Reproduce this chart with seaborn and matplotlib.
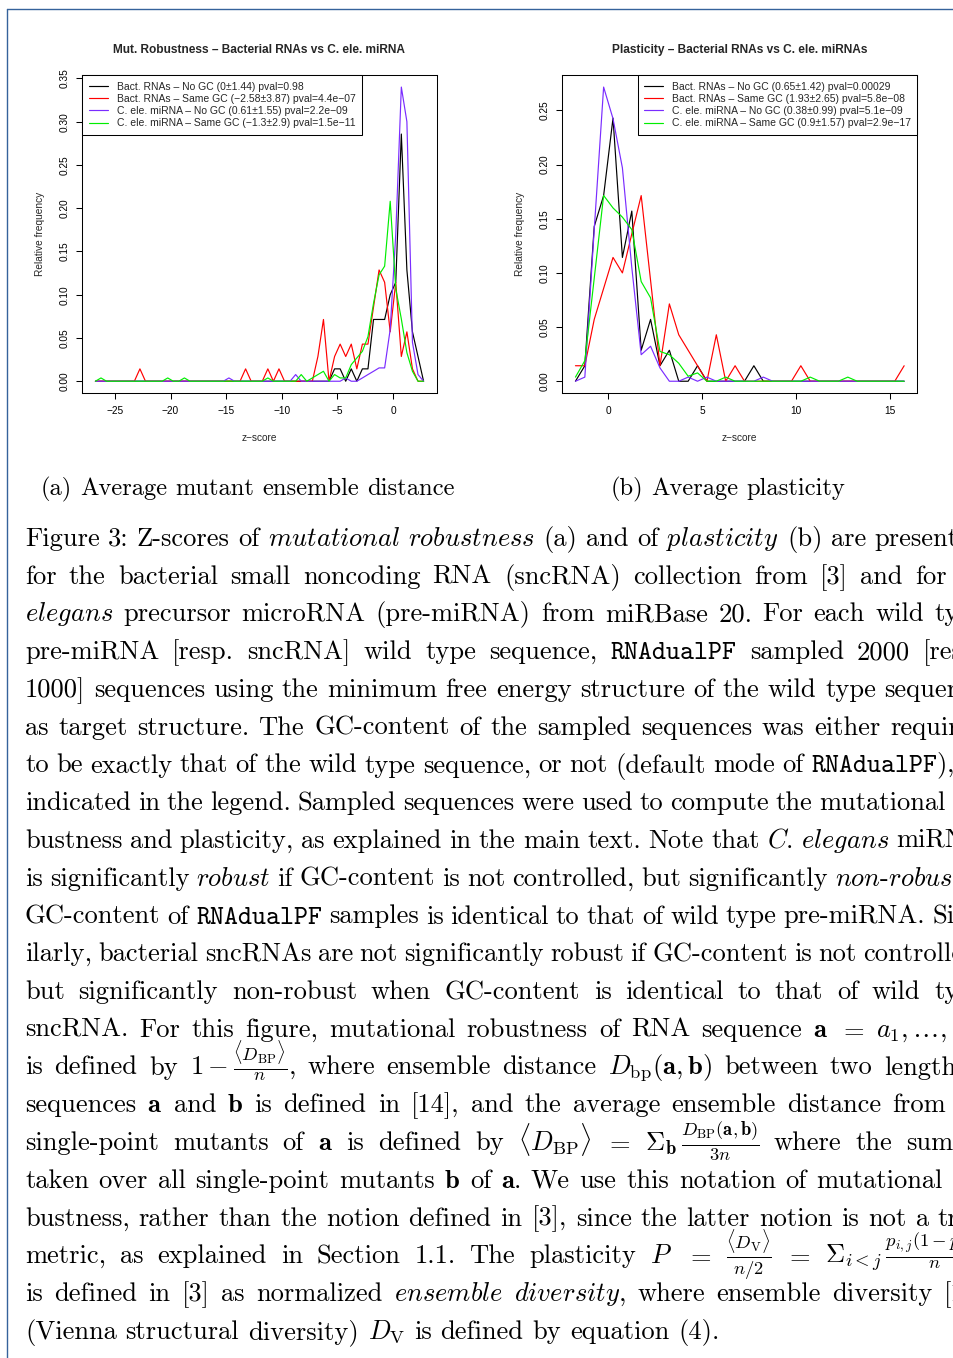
import matplotlib
matplotlib.use("Agg")
import matplotlib.pyplot as plt
from matplotlib.lines import Line2D
import seaborn as sns
import numpy as np
import pandas as pd

# ---------------- data ----------------
z_left = [-26.75, -26.25, -25.75, -25.25, -24.75, -24.25, -23.75, -23.25, -22.75, -22.25,
          -21.75, -21.25, -20.75, -20.25, -19.75, -19.25, -18.75, -18.25, -17.75, -17.25,
          -16.75, -16.25, -15.75, -15.25, -14.75, -14.25, -13.75, -13.25, -12.75, -12.25,
          -11.75, -11.25, -10.75, -10.25, -9.75, -9.25, -8.75, -8.25, -7.75, -7.25,
          -6.75, -6.25, -5.75, -5.25, -4.75, -4.25, -3.75, -3.25, -2.75, -2.25,
          -1.75, -1.25, -0.75, -0.25, 0.25, 0.75, 1.25, 1.75, 2.25, 2.75]
rob_bact_nogc = [0]*40 + [0, 0, 0, 0.0143, 0.0143, 0, 0.0143, 0, 0.0143, 0.0143,
                          0.0714, 0.0714, 0.0714, 0.1000, 0.1143, 0.2857, 0.1286, 0.0571, 0.0286, 0]
rob_bact_samegc = ([0, 0, 0, 0, 0, 0, 0, 0, 0.0143, 0] + [0]*10 +
                   [0, 0, 0, 0, 0, 0, 0, 0.0143, 0, 0] +
                   [0, 0.0143, 0, 0.0143, 0, 0, 0, 0, 0, 0] +
                   [0.0286, 0.0714, 0, 0.0286, 0.0429, 0.0286, 0.0429, 0.0143, 0.0429, 0.0429] +
                   [0.0857, 0.1286, 0.1143, 0.0571, 0.1143, 0.0286, 0.0571, 0.0143, 0, 0])
rob_cele_nogc = ([0]*20 + [0, 0, 0, 0, 0.0038, 0, 0, 0, 0, 0] +
                 [0, 0, 0, 0, 0, 0, 0.0077, 0, 0, 0] +
                 [0, 0, 0, 0, 0, 0.0038, 0, 0, 0.0038, 0.0077] +
                 [0.0115, 0.0154, 0.0154, 0.0600, 0.1700, 0.3400, 0.3000, 0.0450, 0.0077, 0])
rob_cele_samegc = ([0, 0.0038, 0, 0, 0, 0, 0, 0, 0, 0] +
                   [0, 0, 0, 0.0038, 0, 0, 0.0038, 0, 0, 0] + [0]*10 +
                   [0, 0.0038, 0, 0, 0, 0, 0, 0.0077, 0, 0.0038] +
                   [0.0077, 0.0115, 0, 0.0077, 0.0038, 0.0038, 0.0192, 0.0269, 0.0346, 0.0515] +
                   [0.0900, 0.1230, 0.1330, 0.2080, 0.1070, 0.0720, 0.0330, 0.0115, 0, 0])

z_right = [-1.75, -1.25, -0.75, -0.25, 0.25, 0.75, 1.25, 1.75, 2.25, 2.75,
           3.25, 3.75, 4.25, 4.75, 5.25, 5.75, 6.25, 6.75, 7.25, 7.75,
           8.25, 8.75, 9.25, 9.75, 10.25, 10.75, 11.25, 11.75, 12.25, 12.75,
           13.25, 13.75, 14.25, 14.75, 15.25, 15.75]
pla_bact_nogc = [0, 0.0143, 0.1429, 0.1714, 0.2429, 0.1143, 0.1571, 0.0286, 0.0571, 0.0143,
                 0.0286, 0, 0, 0.0143, 0, 0, 0, 0, 0, 0.0143] + [0]*16
pla_bact_samegc = [0.0143, 0.0143, 0.0571, 0.0857, 0.1143, 0.1000, 0.1360, 0.1714, 0.0930, 0.0143,
                   0.0714, 0.0429, 0.0286, 0.0143, 0, 0.0429, 0, 0.0143, 0, 0,
                   0, 0, 0, 0, 0.0143, 0, 0, 0, 0, 0, 0, 0, 0, 0, 0, 0.0143]
pla_cele_nogc = [0, 0.0038, 0.1400, 0.2716, 0.2424, 0.1970, 0.1050, 0.0245, 0.0323, 0.0123,
                 0, 0, 0.0038, 0, 0.0038, 0, 0, 0, 0, 0,
                 0.0038] + [0]*15
pla_cele_samegc = [0.0038, 0.0190, 0.0950, 0.1715, 0.1600, 0.1515, 0.1400, 0.0920, 0.0770, 0.0275,
                   0.0245, 0.0166, 0.0046, 0.0077, 0, 0, 0.0038, 0, 0, 0,
                   0, 0, 0, 0, 0, 0.0038, 0, 0, 0, 0.0038, 0, 0, 0, 0, 0, 0]

series_colors = ["black", "#ff0000", "#7a2cff", "#00ee00"]
left_labels = ["Bact. RNAs \u2013 No GC (0\u00b11.44) pval=0.98",
               "Bact. RNAs \u2013 Same GC (\u22122.58\u00b13.87) pval=4.4e\u221207",
               "C. ele. miRNA \u2013 No GC (0.61\u00b11.55) pval=2.2e\u221209",
               "C. ele. miRNA \u2013 Same GC (\u22121.3\u00b12.9) pval=1.5e\u221211"]
right_labels = ["Bact. RNAs \u2013 No GC (0.65\u00b11.42) pval=0.00029",
                "Bact. RNAs \u2013 Same GC (1.93\u00b12.65) pval=5.8e\u221208",
                "C. ele. miRNA \u2013 No GC (0.38\u00b10.99) pval=5.1e\u221209",
                "C. ele. miRNA \u2013 Same GC (0.9\u00b11.57) pval=2.9e\u221217"]
left_title = "Mut. Robustness \u2013 Bacterial RNAs vs C. ele. miRNA"
right_title = "Plasticity \u2013 Bacterial RNAs vs C. ele. miRNAs"
left_xticks = [-25, -20, -15, -10, -5, 0]
right_xticks = [0, 5, 10, 15]
left_yticks = [0.00, 0.05, 0.10, 0.15, 0.20, 0.25, 0.30, 0.35]
right_yticks = [0.00, 0.05, 0.10, 0.15, 0.20, 0.25]
xlabel_text = "z\u2212score"
ylabel_text = "Relative frequency"

subcap_a = r"(a) Average mutant ensemble distance"
subcap_b = r"(b) Average plasticity"
caption_lines = [
    r"Figure 3: Z-scores of $\mathit{mutational}$ $\mathit{robustness}$ (a) and of $\mathit{plasticity}$ (b) are presented",
    r"for the bacterial small noncoding RNA (sncRNA) collection from [3] and for $\mathit{C}$.",
    r"$\mathit{elegans}$ precursor microRNA (pre-miRNA) from miRBase 20. For each wild type",
    r"pre-miRNA [resp. sncRNA] wild type sequence, $\mathtt{RNAdualPF}$ sampled 2000 [resp.",
    r"1000] sequences using the minimum free energy structure of the wild type sequence",
    r"as target structure. The GC-content of the sampled sequences was either required",
    r"to be exactly that of the wild type sequence, or not (default mode of $\mathtt{RNAdualPF}$), as",
    r"indicated in the legend. Sampled sequences were used to compute the mutational ro-",
    r"bustness and plasticity, as explained in the main text. Note that $\mathit{C}$. $\mathit{elegans}$ miRNA",
    r"is significantly $\mathit{robust}$ if GC-content is not controlled, but significantly $\mathit{non}$-$\mathit{robust}$ if",
    r"GC-content of $\mathtt{RNAdualPF}$ samples is identical to that of wild type pre-miRNA. Sim-",
    r"ilarly, bacterial sncRNAs are not significantly robust if GC-content is not controlled,",
    r"but significantly non-robust when GC-content is identical to that of wild type",
    r"sncRNA. For this figure, mutational robustness of RNA sequence $\mathbf{a}$ $=$ $a_1,\ldots,$ $a_n$",
    r"is defined by $1-\frac{\langle{D_{\mathrm{BP}}}\rangle}{n}$, where ensemble distance $D_{\mathrm{bp}}(\mathbf{a},\mathbf{b})$ between two length $n$",
    r"sequences $\mathbf{a}$ and $\mathbf{b}$ is defined in [14], and the average ensemble distance from all",
    r"single-point mutants of $\mathbf{a}$ is defined by $\langle{D_{\mathrm{BP}}}\rangle$ $=$ $\Sigma_{\mathbf{b}}\,\frac{D_{\mathrm{BP}}(\mathbf{a},\mathbf{b})}{3n}$ where the sum is",
    r"taken over all single-point mutants $\mathbf{b}$ of $\mathbf{a}$. We use this notation of mutational ro-",
    r"bustness, rather than the notion defined in [3], since the latter notion is not a true",
    r"metric, as explained in Section 1.1. The plasticity $P$ $=$ $\frac{\langle{D_{\mathrm{V}}}\rangle}{n/2}$ $=$ $\Sigma_{i<j}\,\frac{p_{i,j}(1-p_{i,j})}{n}$",
    r"is defined in [3] as normalized $\mathit{ensemble}$ $\mathit{diversity}$, where ensemble diversity [11]",
    r"(Vienna structural diversity) $D_{\mathrm{V}}$ is defined by equation (4).",
]

# ---------------- figure ----------------
W, H, DPI = 954, 1358, 100
sns.set_style("ticks")
plt.rcParams['font.family'] = ['Liberation Sans', 'DejaVu Sans']
plt.rcParams['mathtext.fontset'] = 'cm'
plt.rcParams['axes.unicode_minus'] = True

fig = plt.figure(figsize=(W / DPI, H / DPI), dpi=DPI)
fig.patch.set_facecolor("white")


def fx(px):
    return px / W


def fy(py):
    return 1 - py / H


TICK_FS = 7.3
LEG_FS = 7.5


def panel(rect, z, vals, labels, title, xticks, yticks, loc):
    x0, y0, x1, y1 = rect
    ax = fig.add_axes([fx(x0), fy(y1), (x1 - x0) / W, (y1 - y0) / H])
    frames = [pd.DataFrame({"z": z, "freq": v, "series": lab}) for v, lab in zip(vals, labels)]
    df = pd.concat(frames, ignore_index=True)
    sns.lineplot(data=df, x="z", y="freq", hue="series", hue_order=labels,
                 palette=series_colors, estimator=None, sort=False,
                 linewidth=0.85, ax=ax, legend=False)
    zmin, zmax = min(z), max(z)
    ymax = max(max(v) for v in vals)
    ax.set_xlim(zmin - 0.04 * (zmax - zmin), zmax + 0.04 * (zmax - zmin))
    ax.set_ylim(-0.04 * ymax, 1.04 * ymax)
    ax.set_xticks(xticks)
    ax.set_xticklabels([("\u2212%d" % -t) if t < 0 else "%d" % t for t in xticks])
    ax.set_yticks(yticks)
    ax.set_yticklabels(["%.2f" % t for t in yticks], rotation=90, va="center")
    ax.set_xlabel("")
    ax.set_ylabel("")
    for s in ax.spines.values():
        s.set_visible(True)
        s.set_linewidth(0.75)
        s.set_color("black")
    ax.tick_params(direction="out", length=4.3, width=0.75, labelsize=TICK_FS,
                   colors="black")
    ax.tick_params(axis="x", pad=5.0)
    ax.tick_params(axis="y", pad=4.5)
    leg = ax.legend(ax.lines[:4], labels, loc=loc, borderaxespad=0, frameon=True,
                    fancybox=False, edgecolor="black", framealpha=1, fontsize=LEG_FS,
                    handlelength=1.85, handletextpad=0.85, borderpad=0.6,
                    labelspacing=0.22)
    leg.get_frame().set_linewidth(0.75)
    cx = (x0 + x1) / 2
    fig.text(fx(cx), fy(50), title, ha="center", va="center", fontsize=8.6,
             fontweight="bold")
    fig.text(fx(cx), fy(438), xlabel_text, ha="center", va="center", fontsize=TICK_FS)
    fig.text(fx(x0 - 42), fy((y0 + y1) / 2), ylabel_text, ha="center", va="center",
             rotation=90, fontsize=TICK_FS)
    return ax


panel((82.3, 75.3, 436.7, 393.0), z_left,
      [rob_bact_nogc, rob_bact_samegc, rob_cele_nogc, rob_cele_samegc],
      left_labels, left_title, left_xticks, left_yticks, "upper left")
panel((562.3, 75.3, 917.3, 393.0), z_right,
      [pla_bact_nogc, pla_bact_samegc, pla_cele_nogc, pla_cele_samegc],
      right_labels, right_title, right_xticks, right_yticks, "upper right")

# ---------------- caption text ----------------
FS = 19.1
SUB_FS = 17.7
renderer = fig.canvas.get_renderer()


def place_line(s, x0, yb, right=None, center=None, fs=FS):
    toks = s.split(" ")
    texts, widths = [], []
    for t in toks:
        tx = fig.text(0, fy(yb), t, fontsize=fs, family="cmr10", ha="left",
                      va="baseline", color="black")
        widths.append(tx.get_window_extent(renderer).width)
        texts.append(tx)
    total = sum(widths)
    n = len(toks)
    gap = 0.333 * fs * DPI / 72.0
    if right is not None and n > 1:
        gap = (right - x0 - total) / (n - 1)
    if center is not None:
        x0 = center - (total + gap * (n - 1)) / 2
    x = x0
    for tx, w in zip(texts, widths):
        tx.set_x(fx(x))
        x += w + gap


place_line(subcap_a, 0, 495, center=247.5, fs=SUB_FS)
place_line(subcap_b, 0, 495, center=728, fs=SUB_FS)

BASE0, PITCH, LEFT, RIGHT = 546.0, 37.75, 25.0, 985.0
for i, line in enumerate(caption_lines):
    last = (i == len(caption_lines) - 1)
    place_line(line, LEFT, BASE0 + i * PITCH, right=None if last else RIGHT)

# page frame (blue)
fcol = "#35629b"
fig.add_artist(Line2D([fx(7.5), 1.0], [fy(8.5), fy(8.5)], color=fcol, lw=1.0))
fig.add_artist(Line2D([fx(7.5), fx(7.5)], [fy(8.5), 0.0], color=fcol, lw=1.0))

fig.savefig("out.png", dpi=DPI, facecolor="white")
